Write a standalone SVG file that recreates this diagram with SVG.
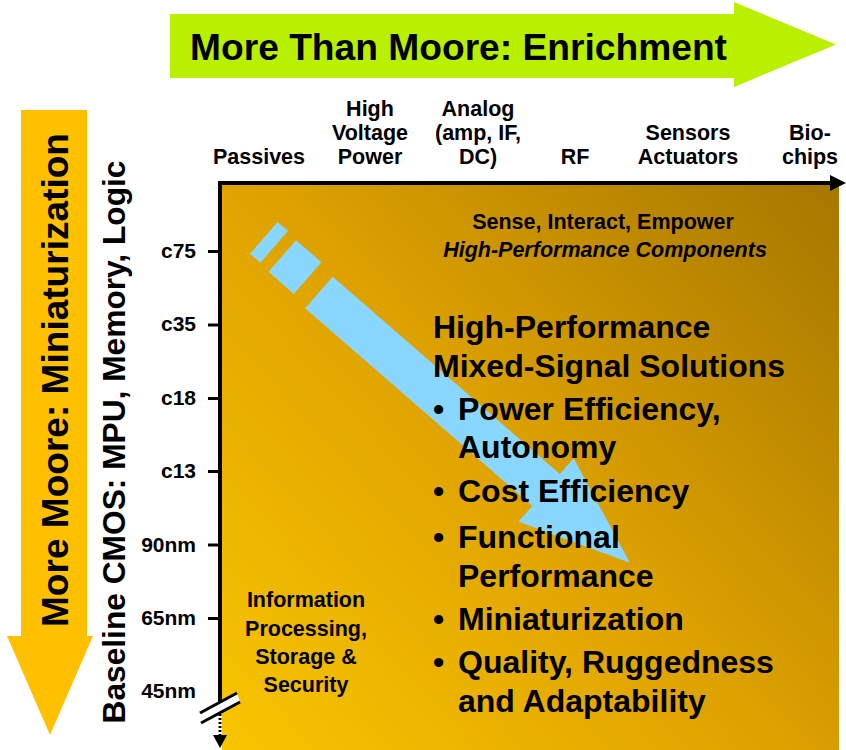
<svg xmlns="http://www.w3.org/2000/svg" width="846" height="750" viewBox="0 0 846 750">
<style>
text{font-family:"Liberation Sans",Arial,sans-serif;font-weight:bold;fill:#000}
.lbl{font-size:21.5px;text-anchor:middle}
.tk{font-size:21px;text-anchor:end}
.big{font-size:32px}
.tick{stroke:#000;stroke-width:3}
</style>
<defs>
<linearGradient id="bg" gradientUnits="userSpaceOnUse" x1="222" y1="750" x2="839" y2="185">
<stop offset="0" stop-color="#F9C500"/>
<stop offset="0.5" stop-color="#DDA100"/>
<stop offset="1" stop-color="#A67700"/>
</linearGradient>
</defs>
<rect width="846" height="750" fill="#fff"/>

<g id="enrichment-arrow">
<polygon points="170,14 734,14 734,2 836,44.5 734,87 734,78 170,78" fill="#B8F000"/>
<text x="190" y="60" font-size="36" textLength="537" lengthAdjust="spacingAndGlyphs">More Than Moore: Enrichment</text>
</g>

<g id="miniaturization-arrow">
<polygon points="21,110 87,110 87,636 93,636 50,735 7,636 21,636" fill="#FFC000"/>
<text transform="translate(68,380) rotate(-90)" text-anchor="middle" font-size="37" textLength="494" lengthAdjust="spacingAndGlyphs">More Moore: Miniaturization</text>
</g>

<g id="baseline-label">
<text transform="translate(125,442) rotate(-90)" text-anchor="middle" font-size="32" textLength="563" lengthAdjust="spacingAndGlyphs">Baseline CMOS: MPU, Memory, Logic</text>
</g>

<g id="field">
<rect x="222" y="185" width="617" height="565" fill="url(#bg)"/>
</g>

<g id="connectors">
<line x1="218" y1="183" x2="832" y2="183" stroke="#000" stroke-width="4"/>
<polygon points="830,175 846,183 830,191" fill="#000"/>
<line x1="220" y1="181" x2="220" y2="706" stroke="#000" stroke-width="4"/>
<line x1="220" y1="706" x2="220" y2="736" stroke="#000" stroke-width="3" stroke-dasharray="2,2"/>
<polygon points="213,735 227,735 220,748" fill="#000"/>
<polygon points="200,713 237,693 240,702 201,723" fill="#fff"/>
<line x1="200" y1="713" x2="237" y2="693" stroke="#000" stroke-width="3"/>
<line x1="201" y1="723" x2="240" y2="702" stroke="#000" stroke-width="3"/>
<line class="tick" x1="208" y1="251.5" x2="220" y2="251.5"/>
<line class="tick" x1="208" y1="325" x2="220" y2="325"/>
<line class="tick" x1="208" y1="398.5" x2="220" y2="398.5"/>
<line class="tick" x1="208" y1="471.5" x2="220" y2="471.5"/>
<line class="tick" x1="208" y1="545" x2="220" y2="545"/>
<line class="tick" x1="208" y1="618.5" x2="220" y2="618.5"/>
</g>

<g id="y-labels">
<text class="tk" x="196" y="258">c75</text>
<text class="tk" x="196" y="331">c35</text>
<text class="tk" x="196" y="405">c18</text>
<text class="tk" x="196" y="478">c13</text>
<text class="tk" x="196" y="552">90nm</text>
<text class="tk" x="196" y="625">65nm</text>
<text class="tk" x="196" y="698">45nm</text>
</g>

<g id="x-labels">
<text class="lbl" x="259" y="164">Passives</text>
<text class="lbl" x="370" y="116">High</text>
<text class="lbl" x="370" y="140">Voltage</text>
<text class="lbl" x="370" y="164">Power</text>
<text class="lbl" x="478" y="116">Analog</text>
<text class="lbl" x="478" y="140">(amp, IF,</text>
<text class="lbl" x="478" y="164">DC)</text>
<text class="lbl" x="575" y="164">RF</text>
<text class="lbl" x="688" y="140">Sensors</text>
<text class="lbl" x="688" y="164">Actuators</text>
<text class="lbl" x="810" y="140">Bio-</text>
<text class="lbl" x="810" y="164">chips</text>
</g>

<g id="trend-arrow" transform="translate(318.9,292.5) rotate(41)">
<path d="M0,-21 L301,-21 L301,-42 L412,0 L301,42 L301,21 L0,21 Z" fill="#89D7FF"/>
<rect x="-51.6" y="-24.5" width="33.6" height="42" fill="#89D7FF"/>
<rect x="-77.4" y="-26" width="13.7" height="42" fill="#89D7FF"/>
</g>

<g id="components-label">
<text class="lbl" x="603" y="229">Sense, Interact, Empower</text>
<text class="lbl" x="605" y="257" font-style="italic">High-Performance Components</text>
</g>

<g id="info-label">
<text class="lbl" x="306" y="607">Information</text>
<text class="lbl" x="306" y="636">Processing,</text>
<text class="lbl" x="306" y="664">Storage &amp;</text>
<text class="lbl" x="306" y="692">Security</text>
</g>

<g id="solutions">
<text class="big" x="433" y="338">High-Performance</text>
<text class="big" x="433" y="377">Mixed-Signal Solutions</text>
<text class="big" x="433" y="420">•</text>
<text class="big" x="458" y="420">Power Efficiency,</text>
<text class="big" x="458" y="458">Autonomy</text>
<text class="big" x="433" y="502">•</text>
<text class="big" x="458" y="502">Cost Efficiency</text>
<text class="big" x="433" y="548">•</text>
<text class="big" x="458" y="548">Functional</text>
<text class="big" x="458" y="587">Performance</text>
<text class="big" x="433" y="630">•</text>
<text class="big" x="458" y="630">Miniaturization</text>
<text class="big" x="433" y="673">•</text>
<text class="big" x="458" y="673">Quality, Ruggedness</text>
<text class="big" x="458" y="712">and Adaptability</text>
</g>
</svg>
